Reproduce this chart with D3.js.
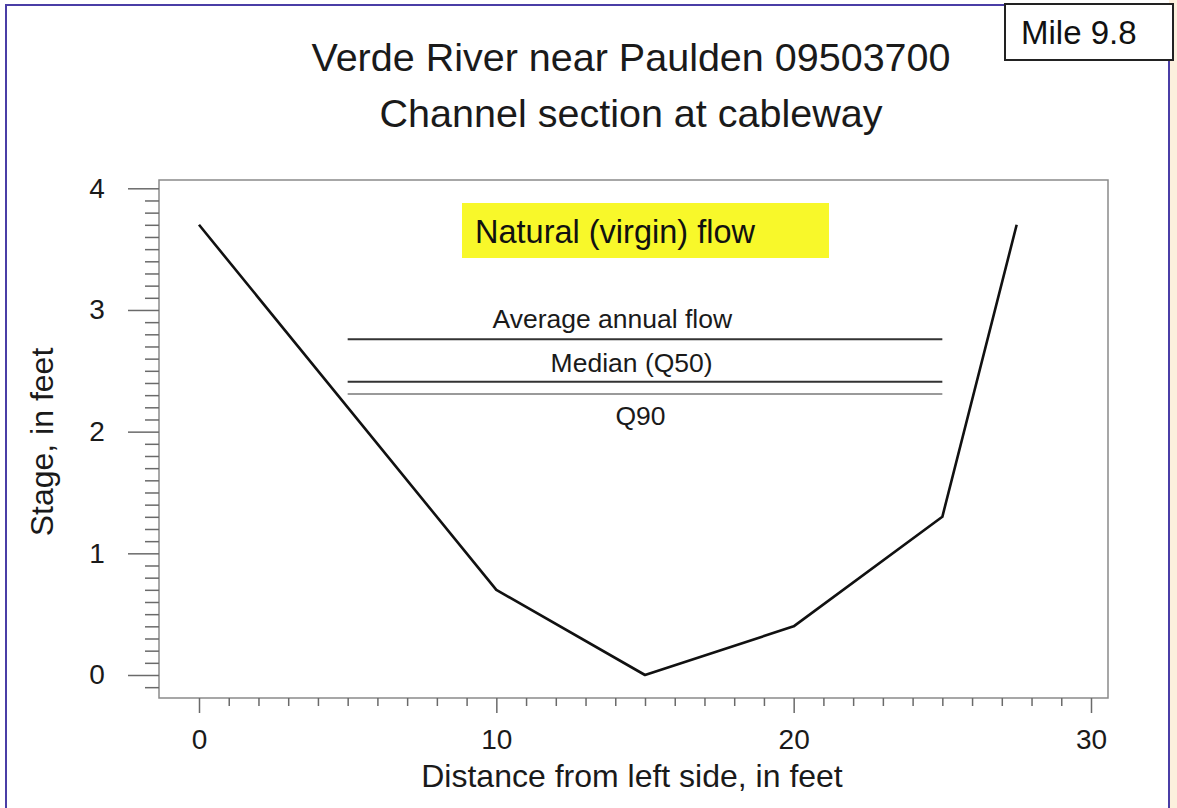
<!DOCTYPE html>
<html>
<head>
<meta charset="utf-8">
<script src="https://cdn.jsdelivr.net/npm/d3@7"></script>
<style>
  html, body { margin: 0; padding: 0; background: #ffffff; }
  svg { display: block; font-family: "Liberation Sans", Arial, sans-serif; }
</style>
</head>
<body>
<svg id="chart" width="1177" height="808"></svg>
<script>
// Cross-section survey at the cableway: distance from left side (ft) and stage (ft)
const distanceFt = [0, 10, 15, 20, 25, 27.5];
const stageFt = [3.7, 0.7, 0, 0.4, 1.3, 3.7];

// Flow-level reference stages, drawn across the channel
const flowLabels = ["Average annual flow", "Median (Q50)", "Q90"];
const flowStages = [2.76, 2.41, 2.31];
const flowSpan = [5, 25];

// Axis ticks
const xTickValues = [0, 10, 20, 30];
const yTickValues = [0, 1, 2, 3, 4];

const titleLines = ["Verde River near Paulden 09503700", "Channel section at cableway"];
const highlightText = "Natural (virgin) flow";
const mileText = "Mile 9.8";

const svg = d3.select("#chart");
const W = 1177, H = 808;

// Page background and border
svg.append("rect").attr("x", 1169).attr("y", 0).attr("width", W - 1169).attr("height", H)
  .attr("fill", "#fcf0dd");
svg.append("path")
  .attr("d", `M6,${H} L6,5 L1169,5 L1169,${H}`)
  .attr("fill", "none").attr("stroke", "#4a3ea6").attr("stroke-width", 2);

// Plot frame in pixels
const frame = { left: 159, right: 1108, top: 180, bottom: 698 };

const x = d3.scaleLinear().domain([0, 30]).range([199, 1091]);
const y = d3.scaleLinear().domain([0, 4]).range([675, 188.3]);

svg.append("rect")
  .attr("x", frame.left).attr("y", frame.top)
  .attr("width", frame.right - frame.left).attr("height", frame.bottom - frame.top)
  .attr("fill", "#ffffff").attr("stroke", "#8a8a8a").attr("stroke-width", 1.5);

// Y axis: minor ticks every 0.1 ft, major ticks every foot
const yMinor = d3.range(-1, 40).map(i => i / 10).filter(v => Math.abs(v - Math.round(v)) > 1e-6);
const yMinorAxis = svg.append("g").attr("transform", `translate(${frame.left},0)`)
  .call(d3.axisLeft(y).tickValues(yMinor).tickSize(14).tickFormat(""));
const yMajorAxis = svg.append("g").attr("transform", `translate(${frame.left},0)`)
  .call(d3.axisLeft(y).tickValues(yTickValues).tickSize(31).tickPadding(25).tickFormat(d3.format("d")));

// X axis: minor ticks every foot, major ticks every 10 ft
const xMinor = d3.range(0, 31).filter(v => v % 10 !== 0);
const xMinorAxis = svg.append("g").attr("transform", `translate(0,${frame.bottom})`)
  .call(d3.axisBottom(x).tickValues(xMinor).tickSize(8).tickFormat(""));
const xMajorAxis = svg.append("g").attr("transform", `translate(0,${frame.bottom})`)
  .call(d3.axisBottom(x).tickValues(xTickValues).tickSize(15).tickPadding(16).tickFormat(d3.format("d")));

[yMinorAxis, yMajorAxis, xMinorAxis, xMajorAxis].forEach(g => {
  g.select(".domain").remove();
  g.selectAll(".tick line").attr("stroke", "#6a6a6a").attr("stroke-width", 1.5);
  g.selectAll(".tick text").attr("fill", "#1a1a1a").style("font-size", "28px")
    .style("font-family", "'Liberation Sans', Arial, sans-serif");
});
yMajorAxis.selectAll(".tick text").attr("text-anchor", "middle").attr("x", -62);

// Axis titles
svg.append("text")
  .attr("x", 632).attr("y", 787).attr("text-anchor", "middle")
  .style("font-size", "32px").attr("fill", "#1a1a1a")
  .text("Distance from left side, in feet");
svg.append("text")
  .attr("transform", "translate(53,442) rotate(-90)").attr("text-anchor", "middle")
  .style("font-size", "32px").attr("fill", "#1a1a1a")
  .text("Stage, in feet");

// Chart title
svg.append("g").selectAll("text").data(titleLines).join("text")
  .attr("x", 631).attr("y", (d, i) => 71 + i * 56)
  .attr("text-anchor", "middle").style("font-size", "39.5px").attr("fill", "#1a1a1a")
  .text(d => d);

// Mile marker box
svg.append("rect").attr("x", 1005).attr("y", 4).attr("width", 168).attr("height", 56)
  .attr("fill", "#ffffff").attr("stroke", "#222222").attr("stroke-width", 2);
svg.append("text").attr("x", 1021).attr("y", 44)
  .style("font-size", "33px").attr("fill", "#111111").text(mileText);

// Highlighted label
svg.append("rect").attr("x", 462).attr("y", 203).attr("width", 367).attr("height", 55)
  .attr("fill", "#f8f82a");
svg.append("text").attr("x", 475).attr("y", 243)
  .style("font-size", "32.5px").attr("fill", "#111111").text(highlightText);

// Flow-level lines and their labels
const flows = flowLabels.map((label, i) => ({ label, stage: flowStages[i] }));
const flowColors = ["#333333", "#333333", "#9a9a9a"];
svg.append("g").selectAll("line").data(flows).join("line")
  .attr("x1", x(flowSpan[0])).attr("x2", x(flowSpan[1]))
  .attr("y1", d => y(d.stage)).attr("y2", d => y(d.stage))
  .attr("stroke", (d, i) => flowColors[i]).attr("stroke-width", 2);

// label centre (ft) and baseline offset (px) relative to each line
const labelPlacement = [
  { cx: 13.9, dy: -11 },
  { cx: 14.55, dy: -10 },
  { cx: 14.85, dy: 31 }
];
svg.append("g").selectAll("text").data(flows).join("text")
  .attr("x", (d, i) => x(labelPlacement[i].cx))
  .attr("y", (d, i) => y(d.stage) + labelPlacement[i].dy)
  .attr("text-anchor", "middle").style("font-size", "26.5px").attr("fill", "#1a1a1a")
  .text(d => d.label);

// Channel profile
const profile = distanceFt.map((d, i) => [d, stageFt[i]]);
svg.append("path")
  .datum(profile)
  .attr("d", d3.line().x(d => x(d[0])).y(d => y(d[1])))
  .attr("fill", "none").attr("stroke", "#111111").attr("stroke-width", 2.6)
  .attr("stroke-linejoin", "round");
</script>
</body>
</html>
